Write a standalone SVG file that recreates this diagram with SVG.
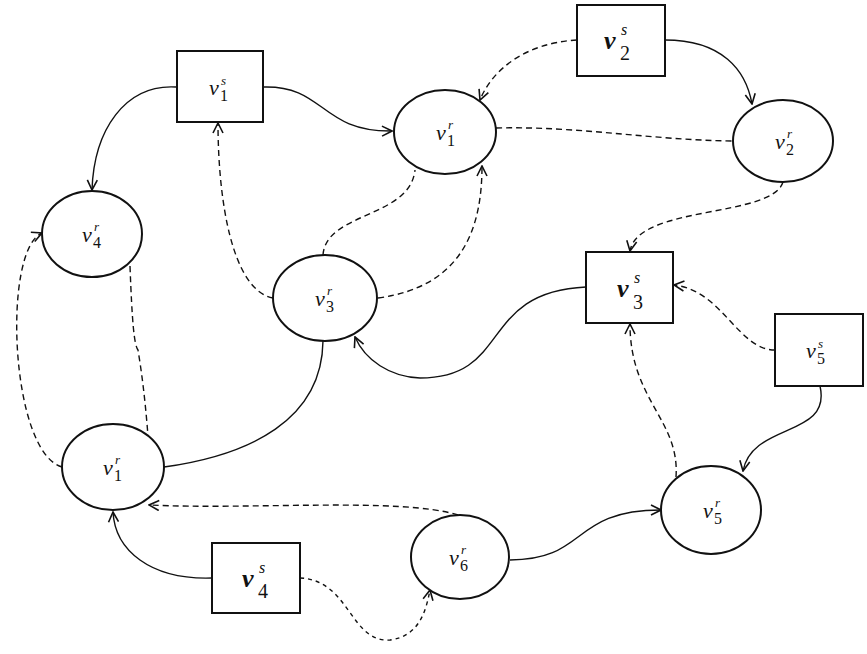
<svg xmlns="http://www.w3.org/2000/svg" width="867" height="654" viewBox="0 0 867 654">
<style>
.nd{fill:#fff;stroke:#111;stroke-width:2}
.e{fill:none;stroke:#111;stroke-width:1.4}
.d{stroke-dasharray:6 4}
.f{stroke-dasharray:4 4}
.v{font-family:"Liberation Serif",serif;font-style:italic;font-size:22px;fill:#111}
.vb{font-family:"Liberation Serif",serif;font-style:italic;font-weight:bold;font-size:26px;fill:#111}
.sp{font-family:"Liberation Serif",serif;font-style:italic;font-size:13px;fill:#111}
.sb{font-family:"Liberation Serif",serif;font-size:16px;fill:#111}
.spb{font-family:"Liberation Serif",serif;font-style:italic;font-size:16px;fill:#111}
.sbb{font-family:"Liberation Serif",serif;font-size:20px;fill:#111}
</style>
<defs>
<marker id="a" viewBox="0 0 12 12" refX="11" refY="6" markerWidth="12" markerHeight="12" markerUnits="userSpaceOnUse" orient="auto">
<path d="M1,1 L11,6 L1,11" fill="none" stroke="#111" stroke-width="1.6"/>
</marker>
</defs>
<rect width="867" height="654" fill="#fff"/>
<g id="connectors">
<path class="e" d="M176,87 C125,84 94,130 92,190" marker-end="url(#a)"/>
<path class="e" d="M263,87 C325,85 320,132 392,131" marker-end="url(#a)"/>
<path class="e d" d="M273,298 C232,290 218,200 218,123" marker-end="url(#a)"/>
<path class="e d" d="M577,40 C525,43 492,70 480,100" marker-end="url(#a)"/>
<path class="e" d="M665,40 C722,40 746,70 752,104" marker-end="url(#a)"/>
<path class="e d" d="M496,128 C580,126 650,140 733,141"/>
<path class="e d" d="M783,182 C772,218 638,205 630,251" marker-end="url(#a)"/>
<path class="e d" d="M323,255 C326,212 410,218 415,170"/>
<path class="e d" d="M378,298 C460,287 482,232 482,166" marker-end="url(#a)"/>
<path class="e" d="M586,287 C478,292 512,378 420,378 C390,377 365,360 355,337" marker-end="url(#a)"/>
<path class="e d" d="M775,350 C738,350 722,290 674,285" marker-end="url(#a)"/>
<path class="e" d="M820,386 C832,438 752,422 743,471" marker-end="url(#a)"/>
<path class="e d" d="M676,477 C680,420 630,400 630,324" marker-end="url(#a)"/>
<path class="e" d="M510,560 C588,560 570,510 661,510" marker-end="url(#a)"/>
<path class="e d" d="M458,515 C400,497 250,510 149,505" marker-end="url(#a)"/>
<path class="e" d="M212,578 C150,580 115,550 113,512" marker-end="url(#a)"/>
<path class="e f" d="M300,578 C350,580 350,643 390,640 C420,636 426,610 430,590" marker-end="url(#a)"/>
<path class="e d" d="M62,467 C10,452 2,250 42,233" marker-end="url(#a)"/>
<path class="e d" d="M130,266 C132,320 134,345 138,350 C143,380 146,410 148,436"/>
<path class="e" d="M164,467 C250,455 322,420 323,341"/>
</g>
<g id="v1s"><rect class="nd" x="177" y="51" width="86" height="71"/><text class="v" x="209" y="95">v</text><text class="sp" x="221" y="85">s</text><text class="sb" x="220" y="101">1</text></g>
<g id="v2s"><rect class="nd" x="577" y="5" width="88" height="71"/><text class="vb" x="604" y="49">v</text><text class="spb" x="621" y="35">s</text><text class="sbb" x="620" y="60">2</text></g>
<g id="v1r-top"><ellipse class="nd" cx="445" cy="132" rx="51" ry="42"/><text class="v" x="436" y="140">v</text><text class="sp" x="448" y="129">r</text><text class="sb" x="447" y="146">1</text></g>
<g id="v2r"><ellipse class="nd" cx="783" cy="141" rx="50" ry="41"/><text class="v" x="775" y="149">v</text><text class="sp" x="787" y="138">r</text><text class="sb" x="786" y="155">2</text></g>
<g id="v4r"><ellipse class="nd" cx="92" cy="234" rx="50" ry="43"/><text class="v" x="82" y="242">v</text><text class="sp" x="94" y="231">r</text><text class="sb" x="93" y="248">4</text></g>
<g id="v3r"><ellipse class="nd" cx="325" cy="298" rx="52" ry="43"/><text class="v" x="315" y="306">v</text><text class="sp" x="327" y="295">r</text><text class="sb" x="326" y="312">3</text></g>
<g id="v3s"><rect class="nd" x="586" y="252" width="87" height="71"/><text class="vb" x="617" y="297">v</text><text class="spb" x="634" y="283">s</text><text class="sbb" x="633" y="309">3</text></g>
<g id="v5s"><rect class="nd" x="775" y="314" width="88" height="72"/><text class="v" x="806" y="358">v</text><text class="sp" x="818" y="348">s</text><text class="sb" x="817" y="364">5</text></g>
<g id="v1r-bottom"><ellipse class="nd" cx="113" cy="467" rx="51" ry="43"/><text class="v" x="103" y="475">v</text><text class="sp" x="115" y="464">r</text><text class="sb" x="114" y="481">1</text></g>
<g id="v5r"><ellipse class="nd" cx="711" cy="510" rx="50" ry="44"/><text class="v" x="703" y="518">v</text><text class="sp" x="715" y="507">r</text><text class="sb" x="714" y="524">5</text></g>
<g id="v6r"><ellipse class="nd" cx="460" cy="557" rx="49" ry="42"/><text class="v" x="449" y="565">v</text><text class="sp" x="461" y="554">r</text><text class="sb" x="460" y="571">6</text></g>
<g id="v4s"><rect class="nd" x="212" y="543" width="88" height="70"/><text class="vb" x="242" y="587">v</text><text class="spb" x="259" y="573">s</text><text class="sbb" x="258" y="598">4</text></g>
</svg>
